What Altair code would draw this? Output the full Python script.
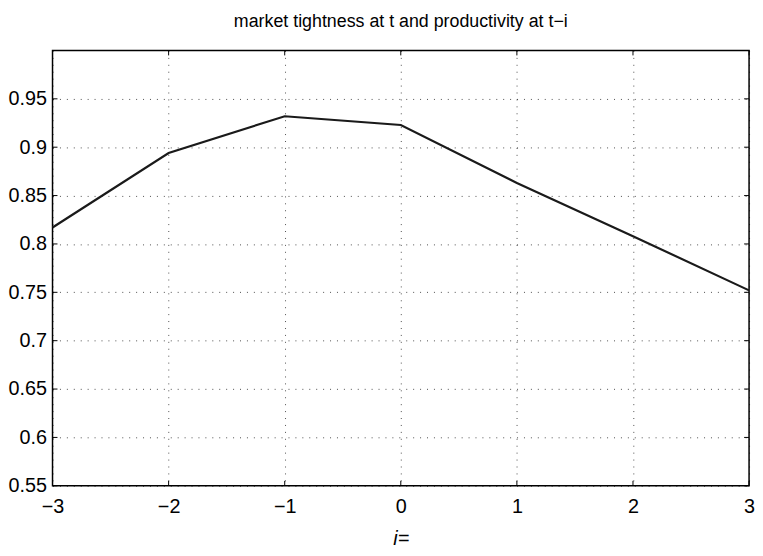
import altair as alt
import pandas as pd

# data
lags = [-3, -2, -1, 0, 1, 2, 3]
corr = [0.817, 0.894, 0.932, 0.923, 0.863, 0.808, 0.752]
x_ticks = [-3, -2, -1, 0, 1, 2, 3]
y_ticks = [0.55, 0.6, 0.65, 0.7, 0.75, 0.8, 0.85, 0.9, 0.95]
title_text = "market tightness at t and productivity at t\u2212i"
x_title = "i="

X_DOM = [-3, 3]
Y_DOM = [0.55, 1.0]
W, H = 704, 440
TICK_PX = 5

df = pd.DataFrame({"lag": lags, "corr": corr})

# inward MATLAB-style ticks on all four sides, expressed in data units
dy = (Y_DOM[1] - Y_DOM[0]) * TICK_PX / H
dx = (X_DOM[1] - X_DOM[0]) * TICK_PX / W
rows = []
for v in x_ticks:
    rows.append({"x": v, "x2": v, "y": Y_DOM[0], "y2": Y_DOM[0] + dy})
    rows.append({"x": v, "x2": v, "y": Y_DOM[1], "y2": Y_DOM[1] - dy})
for v in y_ticks:
    rows.append({"x": X_DOM[0], "x2": X_DOM[0] + dx, "y": v, "y2": v})
    rows.append({"x": X_DOM[1], "x2": X_DOM[1] - dx, "y": v, "y2": v})
ticks_df = pd.DataFrame(rows)

FONT = "Liberation Sans, Arial, Helvetica, sans-serif"
FS = 20

xscale = alt.Scale(domain=X_DOM, nice=False, zero=False)
yscale = alt.Scale(domain=Y_DOM, nice=False, zero=False)

x_enc = alt.X(
    "lag:Q",
    scale=xscale,
    axis=alt.Axis(
        values=x_ticks,
        format="d",
        title=x_title,
        titleFontStyle="italic",
        titleFontWeight="normal",
        titleFont=FONT,
        titleFontSize=FS,
        titleColor="#000",
        titlePadding=12,
        labelFont=FONT,
        labelFontSize=FS,
        labelColor="#000",
        labelPadding=11,
        labelFlush=False,
        ticks=False,
        tickSize=0,
        domain=False,
        grid=True,
        gridDash=[1, 6],
        gridColor="#000",
        gridOpacity=0.7,
        gridWidth=1,
    ),
)
y_enc = alt.Y(
    "corr:Q",
    scale=yscale,
    axis=alt.Axis(
        values=y_ticks,
        format=".2~f",
        title=None,
        labelFont=FONT,
        labelFontSize=FS,
        labelColor="#000",
        labelPadding=6,
        labelFlush=False,
        ticks=False,
        tickSize=0,
        domain=False,
        grid=True,
        gridDash=[1, 6],
        gridColor="#000",
        gridOpacity=0.7,
        gridWidth=1,
    ),
)

line = alt.Chart(df).mark_line(color="#1a1a1a", strokeWidth=2.2).encode(x=x_enc, y=y_enc)

tick_marks = alt.Chart(ticks_df).mark_rule(color="#000", strokeWidth=1).encode(
    x=alt.X("x:Q", scale=xscale),
    x2="x2:Q",
    y=alt.Y("y:Q", scale=yscale),
    y2="y2:Q",
)

chart = (
    alt.layer(line, tick_marks)
    .properties(
        width=W,
        height=H,
        title=alt.TitleParams(
            text=title_text,
            font=FONT,
            fontSize=18,
            fontWeight="normal",
            color="#000",
            anchor="middle",
            offset=19,
        ),
        autosize=alt.AutoSizeParams(type="none"),
        padding={"left": 45, "top": 40, "right": 6, "bottom": 64},
        background="white",
    )
    .configure_view(stroke="#000", strokeWidth=1.5)
)

chart.save("out.html", embed_options={"renderer": "svg", "actions": False})
